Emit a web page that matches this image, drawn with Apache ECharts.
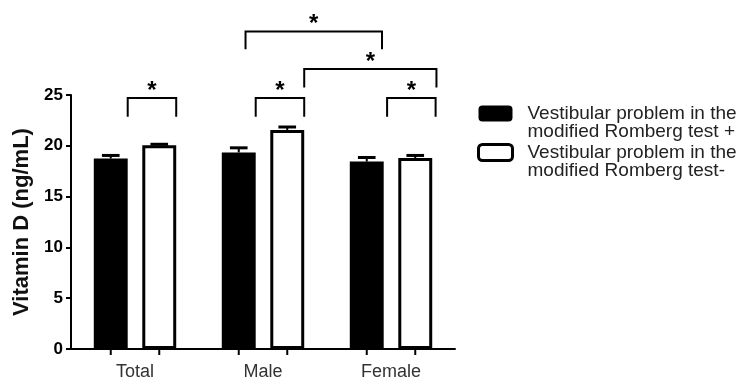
<!DOCTYPE html>
<html>
<head>
<meta charset="utf-8">
<script src="https://cdn.jsdelivr.net/npm/echarts@6/dist/echarts.min.js"></script>
<style>html,body{margin:0;padding:0;background:#fff}#c{width:751px;height:381px}</style>
</head>
<body>
<div id="c"></div>
<script>
// ---- data ----
var categories = ['Total', 'Male', 'Female'];
var seriesNames = ['Vestibular problem in the\nmodified Romberg test +', 'Vestibular problem in the\nmodified Romberg test-'];
var positiveMeans = [18.75, 19.35, 18.45];
var positiveUpper = [19.05, 19.8, 18.85];
var negativeMeans = [20.05, 21.55, 18.8];
var negativeUpper = [20.15, 21.85, 19.05];
var yTicks = [0, 5, 10, 15, 20, 25];
// brackets: [fromCategory, fromBar, toCategory, toBar, topValue, leftLegEnd, rightLegEnd]
var brackets = [
  [0, 0, 0, 1, 24.7, 22.85, 22.85],
  [1, 0, 1, 1, 24.7, 22.85, 22.85],
  [2, 0, 2, 1, 24.7, 22.85, 22.85],
  [1, 0, 2, 0, 31.25, 29.5, 29.5],
  [1, 1, 2, 1, 27.55, 25.75, 25.75]
];
var bracketLabels = ['*', '*', '*', '*', '*'];

// ---- layout constants (styles, not data) ----
var BAR_W = 0.265, BAR_GAP = 0.43;
// anchor on each bar end, in half-bar-widths from the bar centre
var bracketAnchors = [[1, 1], [1, 1], [1.2, 1.2], [0.4, 0.9], [1, 1.25]];

function barCenter(api, cat, bar) {
  var band = api.size([1, 0])[0];
  var w = band * BAR_W;
  var off = (w + w * BAR_GAP) / 2;
  return { x: api.coord([cat, 0])[0] + (bar === 0 ? -off : off), w: w };
}

function errData(means, upper) {
  return categories.map(function (c, i) { return [i, means[i], upper[i]]; });
}

function errorRender(barIdx) {
  return function (params, api) {
    var cat = api.value(0);
    var bc = barCenter(api, cat, barIdx);
    var yM = api.coord([cat, api.value(1)])[1];
    var yU = api.coord([cat, api.value(2)])[1];
    var half = bc.w * 0.26;
    var y0 = api.coord([cat, 0])[1];
    return {
      type: 'group',
      children: [
        { type: 'line', shape: { x1: bc.x, y1: yM, x2: bc.x, y2: yU }, style: { stroke: '#000', lineWidth: 2 } },
        { type: 'line', shape: { x1: bc.x - half, y1: yU, x2: bc.x + half, y2: yU }, style: { stroke: '#000', lineWidth: 3 } },
        { type: 'line', shape: { x1: bc.x, y1: y0 + 1, x2: bc.x, y2: y0 + 6 }, style: { stroke: '#000', lineWidth: 2 } }
      ]
    };
  };
}

var option = {
  animation: false,
  backgroundColor: '#fff',
  textStyle: { fontFamily: 'Liberation Sans, Arial, sans-serif' },
  grid: { left: 71, right: 296, top: 95, bottom: 32, containLabel: false },
  legend: {
    orient: 'vertical', left: 477, top: 86, padding: 0, itemGap: -16,
    itemWidth: 34, itemHeight: 16, icon: 'roundRect', selectedMode: false,
    formatter: function (name) { return '\n' + name; },
    textStyle: { fontSize: 19, lineHeight: 18, color: '#222', padding: [0, 0, 0, 10] },
    data: [
      { name: seriesNames[0], itemStyle: { color: '#000', borderColor: '#000', borderWidth: 0 } },
      { name: seriesNames[1], itemStyle: { color: '#fff', borderColor: '#000', borderWidth: 3 } }
    ]
  },
  xAxis: {
    type: 'category', data: categories,
    axisLine: { lineStyle: { color: '#000', width: 2 } },
    axisTick: { show: false },
    axisLabel: { color: '#333', fontSize: 18, margin: 14 }
  },
  yAxis: {
    type: 'value', min: 0, max: 25, interval: 5,
    name: 'Vitamin D (ng/mL)', nameLocation: 'middle', nameGap: 34,
    nameTextStyle: { fontSize: 22, fontWeight: 'bold', color: '#111' },
    axisLine: { show: true, lineStyle: { color: '#000', width: 2 } },
    axisTick: { show: true, length: 5, lineStyle: { color: '#000', width: 2 } },
    axisLabel: { color: '#000', fontSize: 17, fontWeight: 'bold', margin: 8,
      formatter: function (v) { return yTicks.indexOf(v) >= 0 ? String(v) : ''; } },
    splitLine: { show: false }
  },
  series: [
    { name: seriesNames[0], type: 'bar', data: positiveMeans, barWidth: (BAR_W * 100) + '%', barGap: (BAR_GAP * 100) + '%',
      itemStyle: { color: '#000' }, z: 2 },
    { name: seriesNames[1], type: 'bar', data: negativeMeans, barWidth: (BAR_W * 100) + '%', barGap: (BAR_GAP * 100) + '%',
      itemStyle: { color: '#fff', borderColor: '#000', borderWidth: 3 }, z: 2 },
    { type: 'custom', data: errData(positiveMeans, positiveUpper), encode: { x: 0, y: [1, 2] },
      renderItem: errorRender(0), clip: false, z: 3, silent: true },
    { type: 'custom', data: errData(negativeMeans, negativeUpper), encode: { x: 0, y: [1, 2] },
      renderItem: errorRender(1), clip: false, z: 3, silent: true },
    { type: 'custom', data: brackets, encode: { x: 0, y: 4 }, clip: false, z: 4, silent: true,
      renderItem: function (params, api) {
        var i = params.dataIndex;
        var a = barCenter(api, api.value(0), api.value(1));
        var b = barCenter(api, api.value(2), api.value(3));
        var xa = a.x + bracketAnchors[i][0] * a.w / 2;
        var xb = b.x + bracketAnchors[i][1] * b.w / 2;
        var yT = api.coord([0, api.value(4)])[1];
        var yL = api.coord([0, api.value(5)])[1];
        var yR = api.coord([0, api.value(6)])[1];
        return {
          type: 'group',
          children: [
            { type: 'polyline', shape: { points: [[xa, yL], [xa, yT], [xb, yT], [xb, yR]] },
              style: { stroke: '#000', lineWidth: 2, fill: null } },
            { type: 'text', x: (xa + xb) / 2, y: yT + 5,
              style: { text: bracketLabels[i], fontSize: 24, fontWeight: 'bold', fill: '#000',
                align: 'center', verticalAlign: 'bottom', fontFamily: 'Liberation Sans, Arial, sans-serif' } }
          ]
        };
      } }
  ]
};
var chart = echarts.init(document.getElementById('c'), null, { renderer: 'canvas' });
chart.setOption(option);
</script>
</body>
</html>
